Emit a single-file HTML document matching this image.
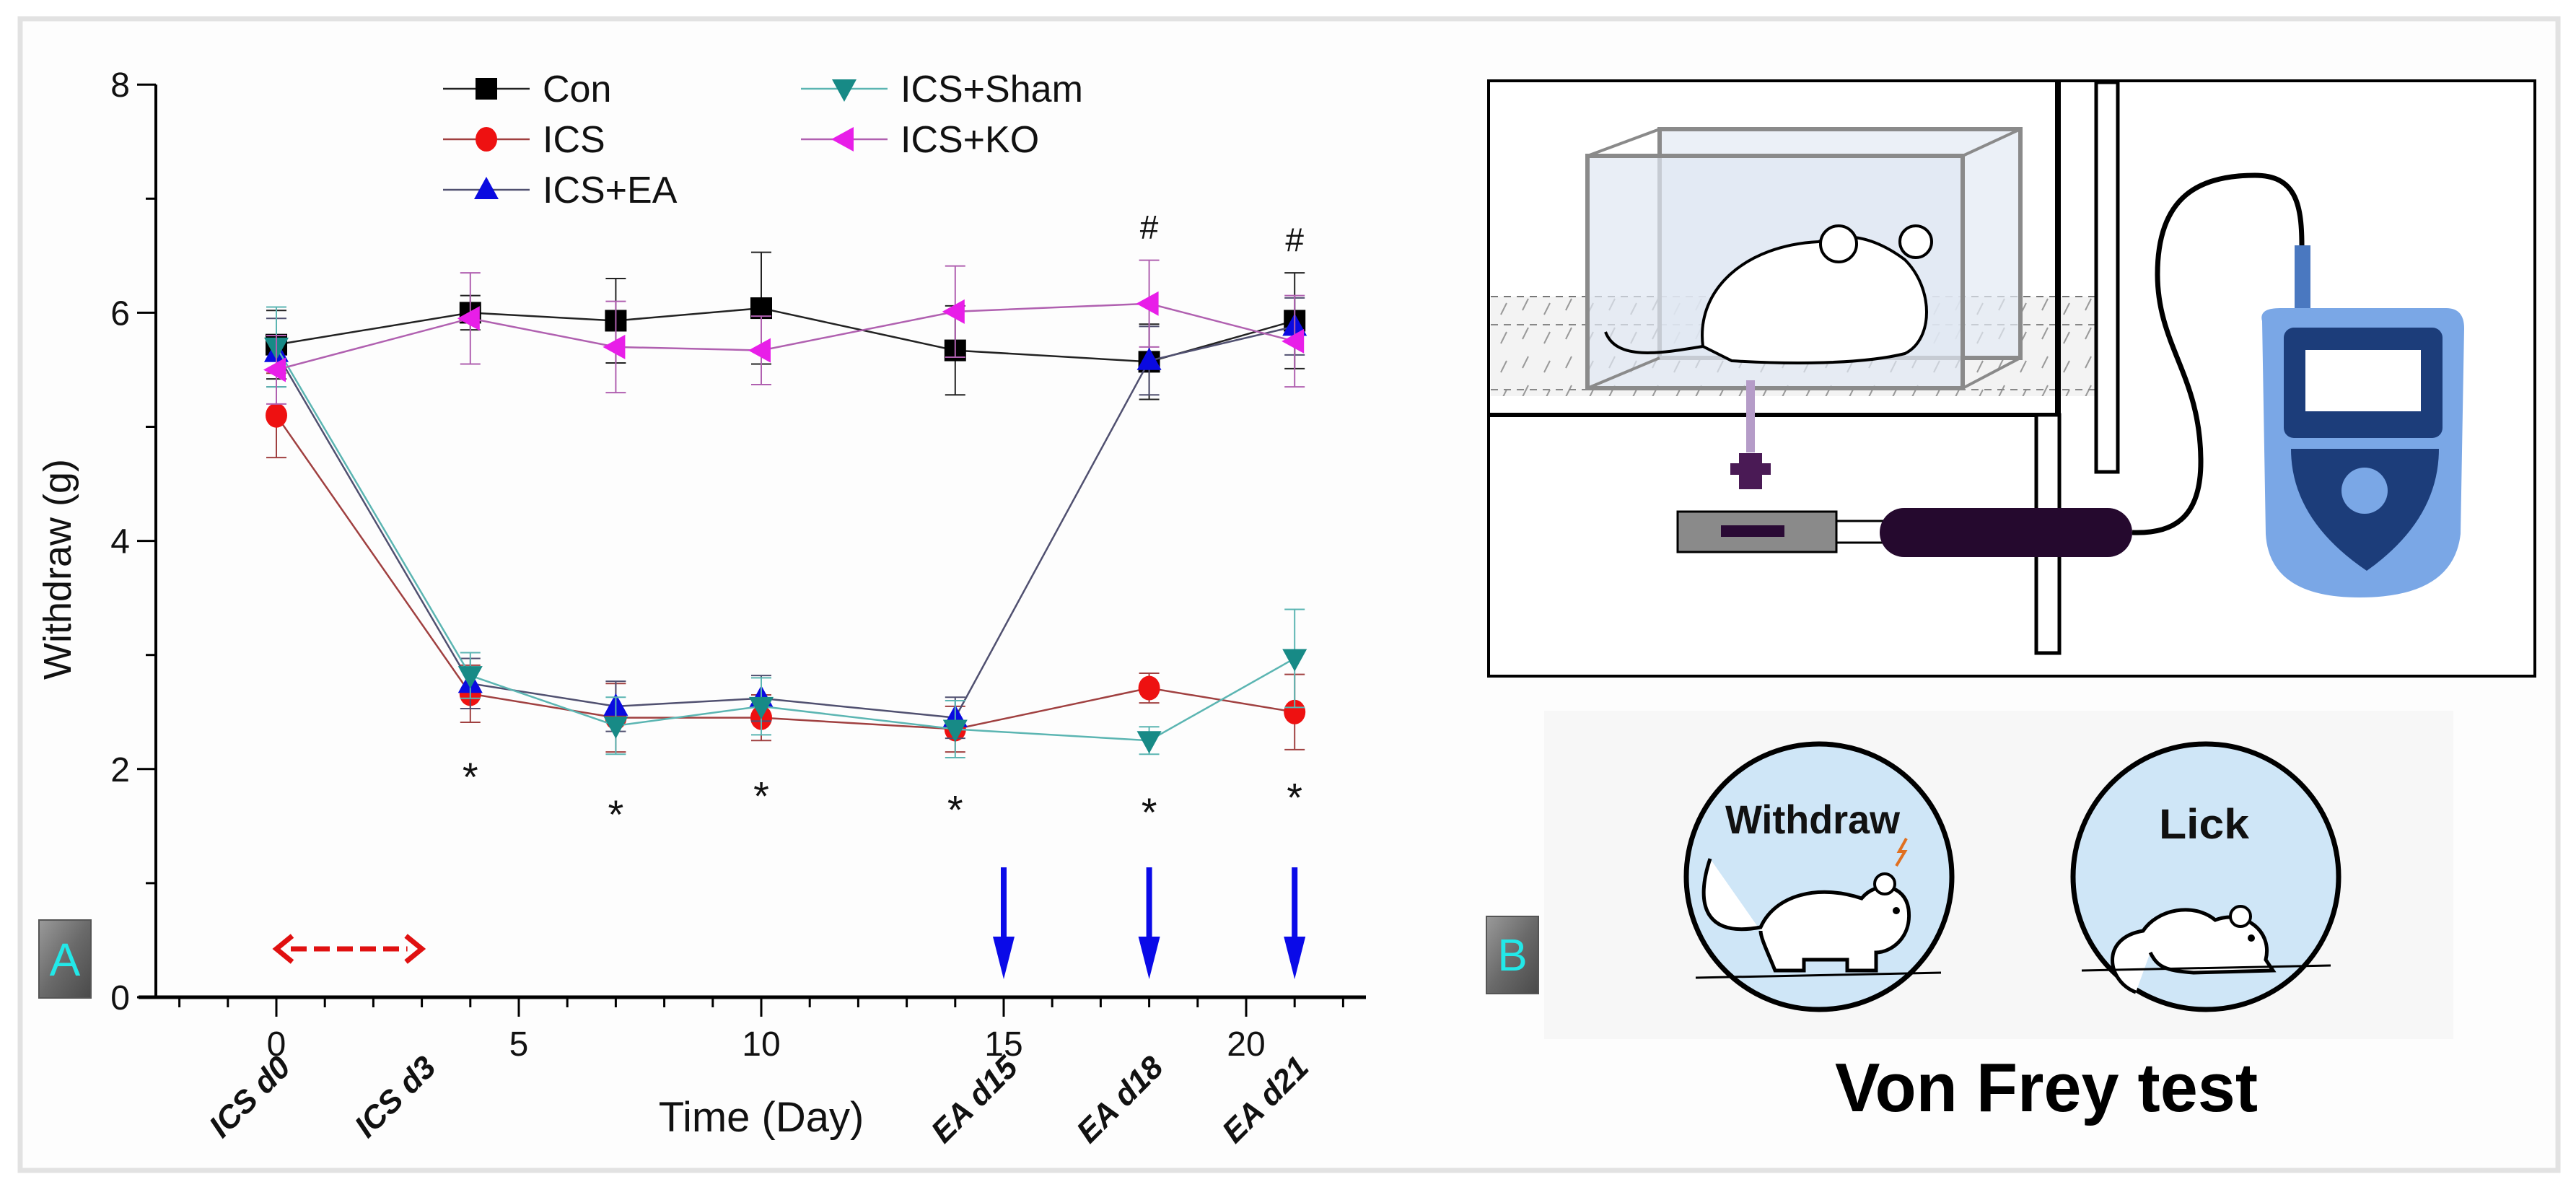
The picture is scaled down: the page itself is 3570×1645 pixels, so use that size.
<!DOCTYPE html>
<html><head><meta charset="utf-8"><style>
html,body{margin:0;padding:0;background:#fff;}
svg{display:block;font-family:"Liberation Sans",Arial,sans-serif;}
</style></head><body>
<svg id="fig" width="3570" height="1645" viewBox="0 0 3570 1645" xmlns="http://www.w3.org/2000/svg">
<defs>
<linearGradient id="lblg" x1="0" y1="0" x2="1" y2="1"><stop offset="0" stop-color="#9a9a9a"/><stop offset="0.5" stop-color="#6a6a6a"/><stop offset="1" stop-color="#4a4a4a"/></linearGradient>
<pattern id="mesh" width="60" height="40" patternUnits="userSpaceOnUse"><rect width="60" height="40" fill="#f3f3f3"/><path d="M10 30 L18 14 M40 36 L48 20" stroke="#999" stroke-width="2"/></pattern>
</defs>
<rect x="0" y="0" width="3570" height="1645" fill="#fff"/>
<rect x="28" y="26" width="3517" height="1596" fill="#fdfdfd" stroke="#e2e2e2" stroke-width="7"/>

<g id="chart"></g>

<g>
<rect x="54" y="1275" width="72" height="108" fill="url(#lblg)" stroke="#555" stroke-width="2"/>
<text x="90" y="1352" font-size="64" fill="#22e8e8" text-anchor="middle">A</text>
</g>

<g>
<rect x="2063" y="112" width="1450" height="825" fill="#fff" stroke="#000" stroke-width="4"/>
<rect x="2066" y="411" width="864" height="138" fill="url(#mesh)"/>
<line x1="2066" y1="411" x2="2930" y2="411" stroke="#777" stroke-width="2" stroke-dasharray="10,8"/>
<line x1="2066" y1="450" x2="2930" y2="450" stroke="#888" stroke-width="2" stroke-dasharray="10,8"/>
<line x1="2066" y1="540" x2="2930" y2="540" stroke="#888" stroke-width="2" stroke-dasharray="10,8"/>
<line x1="2063" y1="575" x2="2852" y2="575" stroke="#000" stroke-width="6"/>
<line x1="2852" y1="114" x2="2852" y2="575" stroke="#000" stroke-width="8"/>
<rect x="2822" y="575" width="32" height="330" fill="#fff" stroke="#000" stroke-width="5"/>
<rect x="2905" y="114" width="30" height="540" fill="#fff" stroke="#000" stroke-width="5"/>
<g>
<rect x="2300" y="179" width="500" height="317" fill="#e3eaf3" fill-opacity="0.7" stroke="#8a8a8a" stroke-width="6"/>
<rect x="2200" y="216" width="520" height="322" fill="#dfe7f2" fill-opacity="0.7" stroke="#8a8a8a" stroke-width="6"/>
<path d="M2200 216 L2300 179 M2720 216 L2800 179 M2720 538 L2800 496 M2200 538 L2300 496" stroke="#8a8a8a" stroke-width="4"/>
</g>
<g>
<path d="M2360 480 C2350 400 2420 340 2520 335 C2560 320 2600 330 2640 360 C2680 400 2680 470 2640 490 C2580 505 2480 505 2400 500 Z" fill="#fff" stroke="#000" stroke-width="4"/>
<circle cx="2548" cy="338" r="25" fill="#fff" stroke="#000" stroke-width="4"/>
<circle cx="2655" cy="335" r="22" fill="#fff" stroke="#000" stroke-width="4"/>
<path d="M2360 480 C2300 490 2240 500 2225 460" fill="none" stroke="#000" stroke-width="4"/>
</g>
<rect x="2420" y="527" width="12" height="100" fill="#b59cc8"/>
<path d="M2410 628 h32 v14 h12 v16 h-12 v20 h-32 v-20 h-12 v-16 h12 z" fill="#4a1a55"/>
<rect x="2325" y="709" width="220" height="56" fill="#8a8a8a" stroke="#000" stroke-width="3"/>
<rect x="2385" y="728" width="88" height="16" fill="#2a0a35"/>
<rect x="2545" y="722" width="65" height="30" fill="#fff" stroke="#000" stroke-width="3"/>
<rect x="2605" y="704" width="350" height="68" rx="34" fill="#25092e"/>
<path d="M2955 738 C3010 740 3050 720 3050 640 C3050 520 2990 480 2990 380 C2990 270 3050 243 3125 243 C3180 243 3190 280 3190 340" fill="none" stroke="#000" stroke-width="7"/>
<g>
<rect x="3180" y="340" width="22" height="90" fill="#4a78c0"/>
<path d="M3135 445 Q3130 427 3160 427 L3390 427 Q3415 427 3415 455 L3410 740 Q3400 828 3270 828 Q3145 828 3140 740 Z" fill="#7aa7e6"/>
<rect x="3165" y="454" width="220" height="153" rx="14" fill="#1c3d7a"/>
<rect x="3195" y="485" width="160" height="85" fill="#fff"/>
<path d="M3175 622 L3380 622 Q3380 720 3280 791 Q3175 720 3175 622 Z" fill="#1c3d7a"/>
<circle cx="3277" cy="680" r="32" fill="#7aa7e6"/>
</g>
</g>

<g>
<rect x="2140" y="985" width="1260" height="455" fill="#f7f7f7"/>
<g>
<circle cx="2521" cy="1215" r="184" fill="#cfe6f7" stroke="#000" stroke-width="7"/>
<text x="2391" y="1155" font-size="56" font-weight="bold" textLength="242" lengthAdjust="spacingAndGlyphs" fill="#111">Withdraw</text>
<path d="M2370 1190 C2350 1250 2360 1300 2440 1285 C2460 1240 2520 1225 2580 1245 C2600 1220 2640 1225 2645 1260 C2650 1300 2620 1320 2600 1320 L2600 1345 L2560 1345 L2560 1330 L2500 1330 L2500 1345 L2460 1345 C2450 1320 2440 1300 2440 1290" fill="#fff" stroke="#000" stroke-width="5"/>
<circle cx="2612" cy="1225" r="14" fill="#fff" stroke="#000" stroke-width="4"/>
<circle cx="2628" cy="1262" r="5" fill="#000"/>
<path d="M2628 1200 l12 -20 l-8 0 l10 -18" fill="none" stroke="#e07020" stroke-width="4"/>
<line x1="2350" y1="1355" x2="2690" y2="1348" stroke="#000" stroke-width="3"/>
</g>
<g>
<circle cx="3057" cy="1215" r="184" fill="#cfe6f7" stroke="#000" stroke-width="7"/>
<text x="2992" y="1162" font-size="58" font-weight="bold" textLength="125" lengthAdjust="spacingAndGlyphs" fill="#111">Lick</text>
<path d="M2960 1375 C2920 1360 2910 1300 2970 1290 C2990 1260 3040 1250 3070 1275 C3110 1260 3150 1290 3140 1330 L3150 1345 L3040 1348 C3000 1345 2990 1340 2980 1320" fill="#fff" stroke="#000" stroke-width="5"/>
<circle cx="3105" cy="1270" r="14" fill="#fff" stroke="#000" stroke-width="4"/>
<circle cx="3120" cy="1300" r="5" fill="#000"/>
<line x1="2885" y1="1345" x2="3230" y2="1338" stroke="#000" stroke-width="3"/>
</g>
<text x="2543" y="1540" font-size="96" font-weight="bold" textLength="586" lengthAdjust="spacingAndGlyphs" fill="#000">Von Frey test</text>
</g>
<g>
<rect x="2060" y="1270" width="72" height="107" fill="url(#lblg)" stroke="#555" stroke-width="2"/>
<text x="2096" y="1345" font-size="62" fill="#22e8e8" text-anchor="middle">B</text>
</g>
</svg>
<script>
const days = [0, 4, 7, 10, 14, 18, 21];
const conVals = [5.72, 6.0, 5.93, 6.04, 5.67, 5.57, 5.93];
const conErr = [0.3, 0.15, 0.37, 0.49, 0.39, 0.33, 0.42];
const icsVals = [5.1, 2.66, 2.45, 2.45, 2.35, 2.71, 2.5];
const icsErr = [0.37, 0.25, 0.3, 0.2, 0.2, 0.13, 0.33];
const eaVals = [5.65, 2.75, 2.55, 2.62, 2.45, 5.58, 5.88];
const eaErr = [0.3, 0.22, 0.22, 0.2, 0.18, 0.3, 0.25];
const shamVals = [5.7, 2.82, 2.38, 2.55, 2.35, 2.25, 2.97];
const shamErr = [0.35, 0.2, 0.25, 0.25, 0.25, 0.12, 0.43];
const koVals = [5.5, 5.95, 5.7, 5.67, 6.01, 6.08, 5.75];
const koErr = [0.3, 0.4, 0.4, 0.3, 0.4, 0.38, 0.4];
const starDays = [4, 7, 10, 14, 18, 21];
const starVals = [2.0, 1.67, 1.83, 1.71, 1.69, 1.82];
const hashDays = [18, 21];
const hashVals = [6.76, 6.65];
const eaArrowDays = [15, 18, 21];
const yTicks = [0, 2, 4, 6, 8];
const xTicks = [0, 5, 10, 15, 20];
const dayLabels = ["ICS d0", "ICS d3", "EA d15", "EA d18", "EA d21"];
const dayLabelDays = [0, 3, 15, 18, 21];

const NS = "http://www.w3.org/2000/svg";
const g = document.getElementById("chart");
const X = d => 383 + d * 67.2;
const Y = v => 1382 - v * 158.1;
function mk(tag, attrs, parent) {
  const e = document.createElementNS(NS, tag);
  for (const k in attrs) e.setAttribute(k, attrs[k]);
  (parent || g).appendChild(e);
  return e;
}
let e = mk("line", {x1: 216, y1: Y(8), x2: 216, y2: Y(0), stroke: "#000", "stroke-width": 4});


e = mk("line", {x1: 192, y1: Y(0), x2: 1893, y2: Y(0), stroke: "#000", "stroke-width": 5});


for (let v = 0; v <= 8; v++) {
  const major = v % 2 === 0;
  mk("line", {x1: 216 - (major ? 26 : 14), y1: Y(v), x2: 216, y2: Y(v), stroke: "#000", "stroke-width": 3});
}
yTicks.forEach(v => {
  const t = mk("text", {x: 180, y: Y(v) + 17, "font-size": 48, "text-anchor": "end", fill: "#111"});
  t.textContent = v;
  
  
});
for (let d = -2; d <= 22; d++) {
  const major = d % 5 === 0;
  mk("line", {x1: X(d), y1: Y(0), x2: X(d), y2: Y(0) + (major ? 27 : 14), stroke: "#000", "stroke-width": 3});
}
xTicks.forEach(d => {
  const t = mk("text", {x: X(d), y: 1463, "font-size": 48, "text-anchor": "middle", fill: "#111"});
  t.textContent = d;
  
  
});
dayLabels.forEach((s, i) => {
  const x = X(dayLabelDays[i]) + 22, y = 1482;
  const t = mk("text", {x: x, y: y, "font-size": 44, "font-weight": "bold", "font-style": "italic", "text-anchor": "end", fill: "#111", transform: `rotate(-45 ${x} ${y})`});
  t.textContent = s;
  
  
});
e = mk("text", {x: 1055, y: 1568, "font-size": 58, "text-anchor": "middle", fill: "#111"});
e.textContent = "Time (Day)";


e = mk("text", {x: 98, y: 789, "font-size": 54, "text-anchor": "middle", fill: "#111", transform: "rotate(-90 98 789)"});
e.textContent = "Withdraw (g)";



function marker(shape, x, y, color, parent) {
  if (shape === "sq") return mk("rect", {x: x - 15, y: y - 15, width: 30, height: 30, fill: color}, parent);
  if (shape === "ci") return mk("ellipse", {cx: x, cy: y, rx: 15, ry: 17, fill: color}, parent);
  if (shape === "up") return mk("polygon", {points: `${x},${y - 18} ${x - 17},${y + 13} ${x + 17},${y + 13}`, fill: color}, parent);
  if (shape === "dn") return mk("polygon", {points: `${x},${y + 18} ${x - 17},${y - 13} ${x + 17},${y - 13}`, fill: color}, parent);
  return mk("polygon", {points: `${x - 18},${y} ${x + 13},${y - 17} ${x + 13},${y + 17}`, fill: color}, parent);
}
const series = [
  {name: "con", vals: conVals, err: conErr, color: "#000", line: "#222", shape: "sq"},
  {name: "ics", vals: icsVals, err: icsErr, color: "#ee1111", line: "#a04040", shape: "ci"},
  {name: "ics-ea", vals: eaVals, err: eaErr, color: "#0a0ae0", line: "#505070", shape: "up"},
  {name: "ics-sham", vals: shamVals, err: shamErr, color: "#178a86", line: "#5bb5b2", shape: "dn"},
  {name: "ics-ko", vals: koVals, err: koErr, color: "#e81ee8", line: "#b060b0", shape: "lt"}
];
series.forEach(s => {
  const sg = mk("g", {});
  
  
  days.forEach((d, i) => {
    const x = X(d);
    mk("line", {x1: x, y1: Y(s.vals[i] - s.err[i]), x2: x, y2: Y(s.vals[i] + s.err[i]), stroke: s.line, "stroke-width": 2}, sg);
    [s.vals[i] - s.err[i], s.vals[i] + s.err[i]].forEach(v => mk("line", {x1: x - 14, y1: Y(v), x2: x + 14, y2: Y(v), stroke: s.line, "stroke-width": 2}, sg));
  });
  const pts = days.map((d, i) => X(d) + "," + Y(s.vals[i])).join(" ");
  const pl = mk("polyline", {points: pts, fill: "none", stroke: s.line, "stroke-width": 2.5}, sg);
  
  
  days.forEach((d, i) => {
    const m = marker(s.shape, X(d), Y(s.vals[i]), s.color, sg);
    
    
  });
});
starDays.forEach((d, i) => {
  const t = mk("text", {x: X(d), y: Y(starVals[i]) + 30, "font-size": 56, "text-anchor": "middle", fill: "#111"});
  t.textContent = "*";
  
  
});
hashDays.forEach((d, i) => {
  const t = mk("text", {x: X(d), y: Y(hashVals[i]) + 18, "font-size": 46, "text-anchor": "middle", fill: "#111"});
  t.textContent = "#";
  
  
});
eaArrowDays.forEach(d => {
  const ag = mk("g", {});
  
  
  const x = X(d);
  mk("rect", {x: x - 4, y: 1202, width: 8, height: 105, fill: "#0a0ae8"}, ag);
  mk("polygon", {points: `${x - 15},1298 ${x + 15},1298 ${x},1357`, fill: "#0a0ae8"}, ag);
});
const rg = mk("g", {});


mk("line", {x1: X(0) + 20, y1: 1315, x2: X(3) - 20, y2: 1315, stroke: "#e01010", "stroke-width": 7, "stroke-dasharray": "22,10"}, rg);
mk("polyline", {points: `${X(0) + 22},1297 ${X(0)},1315 ${X(0) + 22},1333`, fill: "none", stroke: "#e01010", "stroke-width": 7}, rg);
mk("polyline", {points: `${X(3) - 22},1297 ${X(3)},1315 ${X(3) - 22},1333`, fill: "none", stroke: "#e01010", "stroke-width": 7}, rg);

const legNames = ["Con", "ICS", "ICS+EA", "ICS+Sham", "ICS+KO"];
const legX = [614, 614, 614, 1110, 1110];
const legY = [123, 193, 263, 123, 193];
series.forEach((s, i) => {
  const lg = mk("g", {});
  
  
  mk("line", {x1: legX[i], y1: legY[i], x2: legX[i] + 120, y2: legY[i], stroke: s.line, "stroke-width": 2.5}, lg);
  marker(s.shape, legX[i] + 60, legY[i], s.color, lg);
  const t = mk("text", {x: legX[i] + 138, y: legY[i] + 18, "font-size": 52, fill: "#111"}, lg);
  t.textContent = legNames[i];
});
</script>
</body></html>
